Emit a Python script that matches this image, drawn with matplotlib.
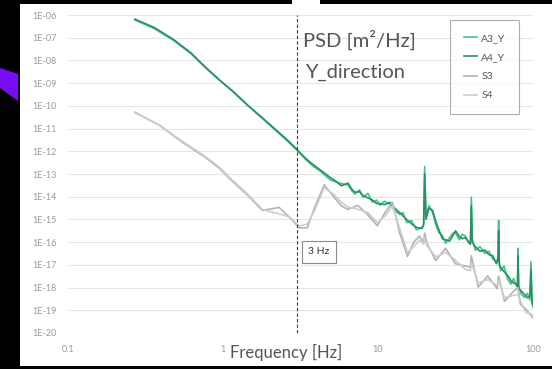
import numpy as np
import matplotlib.pyplot as plt
from matplotlib.patches import Rectangle, Polygon

# accelerometer PSD (values are log10 of PSD in m^2/Hz)
freq_a = [0.27, 0.36, 0.48, 0.62, 0.75, 0.95, 1.16, 1.45, 1.79, 2.2, 2.6, 3.0, 3.4, 3.8,
          4.2, 4.5, 4.9, 5.3, 5.8, 6.4, 6.8, 7.1, 7.6, 8.0, 8.6, 9.2, 9.8, 10.3, 11.0,
          11.9, 12.8, 13.8, 14.5, 15.3, 16.5, 17.7, 19.2, 19.7, 20.0, 20.4, 21.3, 22.5,
          23.5, 24.7, 26.0, 27.3, 29.0, 30.5, 31.6, 33.5, 35.0, 36.6, 38.5, 39.5, 40.0,
          40.6, 42.4, 45.5, 49.0, 52.0, 55.0, 58.0, 59.4, 60.0, 60.6, 61.8, 65.0, 68.4,
          72.0, 75.0, 78.5, 79.5, 80.0, 80.8, 84.0, 88.0, 92.0, 95.5, 97.0, 98.5, 100.0]
a3_y = [-6.22, -6.60, -7.12, -7.70, -8.25, -8.88, -9.38, -10.00, -10.55, -11.10, -11.55,
        -11.95, -12.35, -12.65, -12.85, -13.03, -13.25, -13.34, -13.42, -13.48, -13.75,
        -13.88, -13.70, -14.02, -13.85, -14.24, -14.15, -14.38, -14.20, -14.33, -14.60,
        -14.78, -14.70, -15.14, -15.05, -15.46, -15.35, -15.20, -12.67, -14.90, -14.38,
        -14.70, -15.20, -15.59, -15.70, -16.05, -15.80, -15.60, -15.59, -15.90, -15.65,
        -15.73, -16.05, -15.95, -14.02, -15.90, -16.36, -16.20, -16.50, -16.40, -16.75,
        -16.85, -16.70, -15.05, -16.90, -17.26, -17.05, -17.62, -17.85, -17.60, -17.95,
        -17.80, -16.27, -17.90, -18.30, -18.43, -18.25, -18.55, -16.86, -18.60, -18.88]
a4_y = [-6.18, -6.55, -7.08, -7.66, -8.22, -8.86, -9.36, -9.98, -10.52, -11.06, -11.50,
        -11.92, -12.30, -12.58, -12.80, -12.95, -13.15, -13.30, -13.52, -13.40, -13.68,
        -13.80, -13.78, -13.95, -14.05, -14.15, -14.30, -14.30, -14.35, -14.25, -14.50,
        -14.70, -14.85, -15.00, -15.20, -15.35, -15.40, -15.25, -13.00, -15.00, -14.50,
        -14.60, -15.05, -15.45, -15.85, -15.90, -15.95, -15.70, -15.50, -15.75, -15.85,
        -15.80, -16.00, -16.10, -14.40, -16.00, -16.20, -16.40, -16.35, -16.55, -16.60,
        -16.95, -16.80, -15.50, -17.00, -17.10, -17.30, -17.45, -17.70, -17.80, -17.85,
        -17.95, -16.60, -18.05, -18.15, -18.30, -18.45, -18.40, -17.20, -18.70, -18.75]

freq_s = [0.27, 0.39, 0.53, 0.75, 0.95, 1.1, 1.44, 1.79, 2.0, 2.3, 2.7, 3.1, 3.5, 3.9,
          4.5, 5.2, 5.8, 6.4, 7.4, 8.6, 9.9, 11.1, 12.4, 13.8, 15.5, 17.0, 18.5, 19.7,
          20.0, 20.7, 23.6, 27.3, 31.6, 36.6, 39.5, 40.0, 44.3, 51.0, 58.7, 60.0, 65.5,
          74.0, 80.0, 83.0, 90.0, 100.0]
s3 = [-10.28, -10.86, -11.54, -12.22, -12.75, -13.20, -13.93, -14.60, -14.55, -14.47,
      -14.92, -15.37, -15.37, -14.47, -13.48, -14.02, -14.40, -14.56, -14.38, -14.80,
      -15.28, -14.70, -14.24, -15.60, -16.63, -16.00, -15.73, -16.00, -15.60, -16.05,
      -16.81, -16.27, -16.95, -17.05, -17.10, -16.60, -17.98, -17.49, -18.05, -17.50,
      -18.61, -18.20, -18.00, -18.75, -18.95, -19.33]
s4 = [-10.30, -10.85, -11.50, -12.18, -12.70, -13.15, -13.88, -14.55, -14.65, -14.75,
      -14.90, -15.30, -15.20, -14.60, -13.60, -13.90, -14.25, -14.45, -14.55, -14.70,
      -15.15, -14.85, -14.40, -15.40, -16.45, -16.20, -15.90, -16.10, -15.80, -16.15,
      -16.65, -16.45, -16.80, -17.20, -17.25, -16.90, -17.80, -17.65, -17.90, -17.70,
      -18.45, -18.35, -18.30, -18.60, -19.10, -19.20]

series = [("A3_Y", freq_a, a3_y, "#45c488"),
          ("A4_Y", freq_a, a4_y, "#2a9063"),
          ("S3", freq_s, s3, "#b4b4b4"),
          ("S4", freq_s, s4, "#cdcdcd")]

W, H = 552, 369


def fx(x):
    return x / W


def fy(y):
    return 1 - y / H


plt.rcParams['font.family'] = ['Lato', 'DejaVu Sans']

fig = plt.figure(figsize=(W / 100, H / 100), dpi=100, facecolor='black')

# white slide area and the purple arrow on the left
fig.patches.append(Rectangle((fx(20), fy(366)), fx(532), 362 / H, transform=fig.transFigure,
                             facecolor='white', edgecolor='none', zorder=0))
fig.patches.append(Rectangle((fx(292), fy(4)), fx(28), 4 / H, transform=fig.transFigure,
                             facecolor='white', edgecolor='none', zorder=0))
fig.patches.append(Polygon([(fx(0), fy(68)), (fx(18), fy(74)), (fx(18), fy(101)), (fx(0), fy(88))],
                           closed=True, transform=fig.transFigure, facecolor='#7a0cf5',
                           edgecolor='none', zorder=1))

ax = fig.add_axes([fx(68), fy(333), fx(533 - 68), (333 - 15) / H])
ax.set_facecolor('none')
ax.set_zorder(2)

for name, f, vals, color in series:
    ax.plot(f, 10.0 ** np.array(vals), color=color, lw=1.2, label=name, zorder=3)

ax.set_xscale('log')
ax.set_yscale('log')
ax.set_xlim(0.1, 100)
ax.set_ylim(1e-20, 1e-6)

yticks = [10.0 ** -k for k in range(6, 21)]
ax.set_yticks(yticks)
ax.set_yticklabels(['1E-%02d' % k for k in range(6, 21)])
ax.set_xticks([0.1, 1, 10, 100])
ax.set_xticklabels(['0.1', '1', '10', '100'])
ax.minorticks_off()
ax.tick_params(axis='both', length=0, labelsize=6.5, labelcolor='#9a9a9a')
ax.tick_params(axis='y', pad=8)
ax.tick_params(axis='x', pad=9)
ax.grid(axis='y', color='#e6e6e6', lw=0.8, zorder=0)
for s in ax.spines.values():
    s.set_visible(False)

# 3 Hz marker
ax.axvline(3, color='#3a3a3a', lw=0.8, ls=(0, (3, 2)), zorder=4)
fig.text(fx(319), fy(252), '3 Hz', fontsize=7.5, color='#333333', ha='center', va='center', zorder=5,
         bbox=dict(boxstyle='square,pad=0.6', facecolor='white', edgecolor='#8a8a8a', lw=0.8))

fig.text(fx(303), fy(40), 'PSD [m²/Hz]', fontsize=14.5, color='#555555', ha='left', va='center', zorder=5)
fig.text(fx(305), fy(72), 'Y_direction', fontsize=14.5, color='#555555', ha='left', va='center', zorder=5)
fig.text(fx(286), fy(352), 'Frequency [Hz]', fontsize=12, color='#555555', ha='center', va='center', zorder=5)

leg = ax.legend(loc='upper left', bbox_to_anchor=(fx(450), fy(20)), bbox_transform=fig.transFigure,
                fontsize=7.5, frameon=True, fancybox=False, handlelength=1.3, handletextpad=0.4,
                labelspacing=0.95, borderpad=1.3, borderaxespad=0)
leg.get_frame().set_edgecolor('#9a9a9a')
leg.get_frame().set_linewidth(0.8)
for t in leg.get_texts():
    t.set_color('#555555')

fig.savefig('out.png', dpi=100, facecolor=fig.get_facecolor())
